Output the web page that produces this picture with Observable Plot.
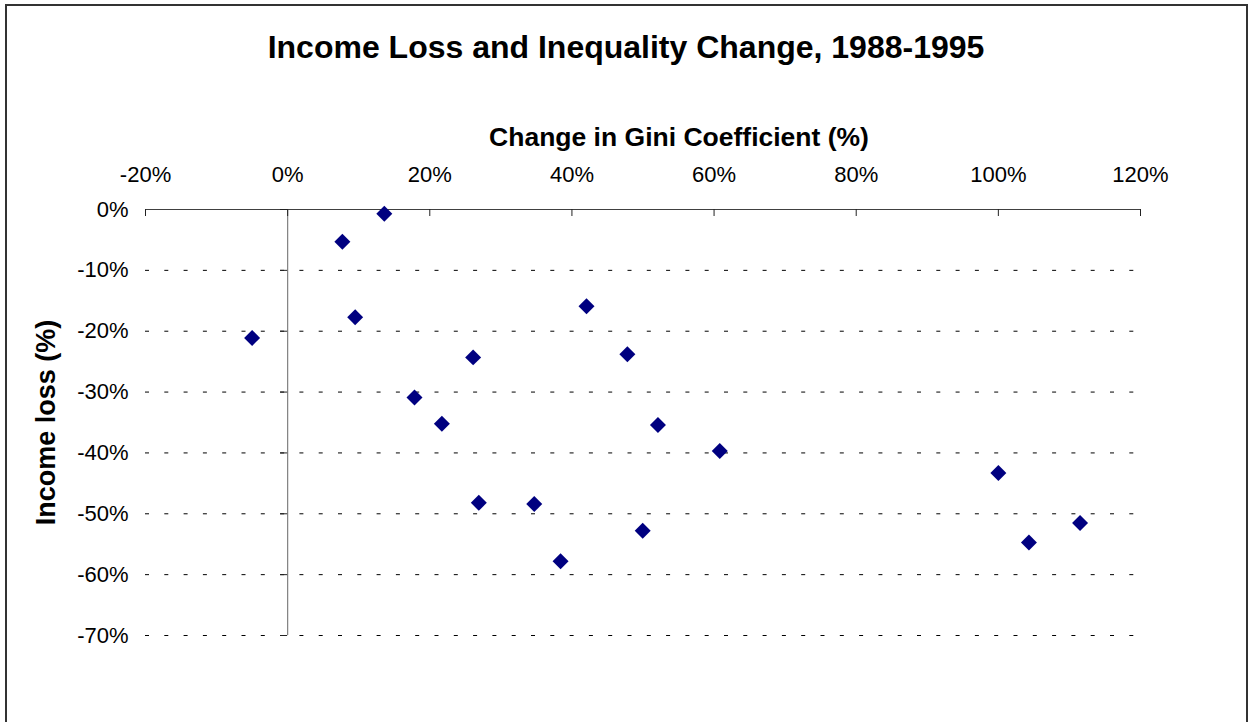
<!DOCTYPE html>
<html>
<head>
<meta charset="utf-8">
<script src="https://cdn.jsdelivr.net/npm/d3@7"></script>
<script src="https://cdn.jsdelivr.net/npm/@observablehq/plot@0.6"></script>
<style>
  html, body { margin: 0; padding: 0; background: #fff; overflow: hidden; }
  body { width: 1252px; height: 722px; position: relative; font-family: "Liberation Sans", Arial, sans-serif; }
  #frame { position: absolute; left: 5px; top: 4px; width: 1243px; height: 760px; border: 2px solid #333; box-sizing: border-box; pointer-events: none; }
  #title { position: absolute; left: 0; top: 0; width: 1252px; height: 90px; box-sizing: border-box; padding-top: 29px; line-height: 36px; text-align: center; font-size: 32px; font-weight: bold; color: #000; }
  #chart { position: absolute; left: 0; top: 90px; }
</style>
</head>
<body>
<div id="title">Income Loss and Inequality Change, 1988-1995</div>
<div id="chart"></div>
<div id="frame"></div>
<script>
// Data
const giniChange = [-5.0, 7.7, 13.6, 9.5, 17.85, 21.7, 26.1, 26.9, 34.7, 38.4, 42.05, 47.8, 49.96, 52.1, 60.8, 100.0, 104.3, 111.5];
const incomeLoss = [-21.1, -5.3, -0.7, -17.7, -30.9, -35.2, -24.3, -48.2, -48.4, -57.8, -15.9, -23.8, -52.8, -35.4, -39.7, -43.3, -54.7, -51.5];
const xTicks = [-20, 0, 20, 40, 60, 80, 100, 120];
const yTicks = [0, -10, -20, -30, -40, -50, -60, -70];
const xLabel = "Change in Gini Coefficient (%)";
const yLabel = "Income loss (%)";

const points = giniChange.map((g, i) => ({gini: g, loss: incomeLoss[i]}));
const pct = d => `${d}%`;

const chart = Plot.plot({
  width: 1252,
  height: 632,
  marginTop: 119,
  marginBottom: 87,
  marginLeft: 145,
  marginRight: 112,
  style: {fontFamily: '"Liberation Sans", Arial, sans-serif', fontSize: "22px", color: "#000", background: "transparent", overflow: "visible"},
  x: {domain: [-20, 120]},
  y: {domain: [-70, 0]},
  marks: [
    Plot.ruleY(yTicks.filter(d => d < 0), {stroke: "#000", strokeDasharray: "4,15.3", strokeWidth: 1}),
    Plot.ruleX([0], {stroke: "#808080", strokeWidth: 1.2}),
    Plot.ruleY([0], {stroke: "#404040", strokeWidth: 1.2}),
    Plot.ruleX(xTicks, {insetBottom: 419, stroke: "#222"}),
    Plot.ruleY(yTicks, {x1: -1, x2: 0, stroke: "#222"}),
    Plot.axisX(xTicks, {anchor: "top", tickSize: 0, tickPadding: 28, tickFormat: pct, fontSize: 22, label: null}),
    Plot.axisY(yTicks, {anchor: "left", tickSize: 0, tickPadding: 17, tickFormat: pct, fontSize: 22, label: null}),
    Plot.dot(points, {x: "gini", y: "loss", symbol: "diamond2", r: 7.2, fill: "#000080", stroke: null}),
    Plot.text([xLabel], {frameAnchor: "top", textAnchor: "middle", lineAnchor: "middle", dx: 36, dy: -72, fontSize: 26.5, fontWeight: "bold", fill: "#000"}),
    Plot.text([yLabel], {frameAnchor: "left", textAnchor: "middle", lineAnchor: "middle", rotate: -90, dx: -99, fontSize: 27, fontWeight: "bold", fill: "#000"})
  ]
});
document.getElementById("chart").appendChild(chart);
</script>
</body>
</html>
